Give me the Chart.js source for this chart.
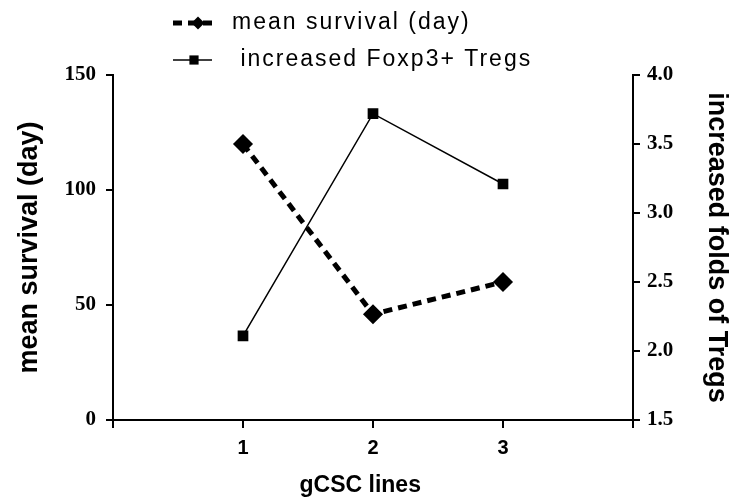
<!DOCTYPE html>
<html>
<head>
<meta charset="utf-8">
<script src="https://cdn.jsdelivr.net/npm/chart.js@4"></script>
<style>
  html, body { margin: 0; padding: 0; background: #fff; }
  #wrap { width: 737px; height: 501px; }
</style>
</head>
<body>
<div id="wrap"><canvas id="survival"></canvas></div>
<script>
var lines = [1, 2, 3];
var survivalDays = [120, 46, 60];
var tregFolds = [2.11, 3.72, 3.21];
var survivalTicks = [0, 50, 100, 150];
var tregTicks = [1.5, 2.0, 2.5, 3.0, 3.5, 4.0];

// simple two-row legend, like the original figure
var stackedLegend = {
  id: 'stackedLegend',
  afterDraw: function (chart) {
    var ctx = chart.ctx;
    var rows = [23, 60];
    ctx.save();
    chart.data.datasets.forEach(function (ds, i) {
      var y = rows[i];
      ctx.strokeStyle = '#000';
      ctx.fillStyle = '#000';
      ctx.lineWidth = ds.borderWidth;
      ctx.setLineDash(ds.borderDash || []);
      ctx.beginPath();
      ctx.moveTo(173, y);
      ctx.lineTo(212, y);
      ctx.stroke();
      ctx.setLineDash([]);
      Chart.helpers.drawPoint(ctx, { pointStyle: ds.pointStyle, radius: 6.5, rotation: 0 }, i === 0 ? 198 : 194, y);
      ctx.font = '23px Arial, "Liberation Sans", sans-serif';
      ctx.letterSpacing = '2px';
      ctx.textBaseline = 'middle';
      ctx.fillText(ds.label, 232, y);
      ctx.letterSpacing = '0px';
    });
    ctx.restore();
  }
};

var survivalchart = document.getElementById("survival");

var myChart = new Chart(survivalchart, {
type: 'line',
data: {
    datasets: [{
        label: 'mean survival (day)',
        data: lines.map(function (x, i) { return { x: x, y: survivalDays[i] }; }),
        yAxisID: 'y',
        borderColor: '#000',
        backgroundColor: '#000',
        borderWidth: 5,
        borderDash: [9, 6],
        pointStyle: 'rectRot',
        pointRadius: 6.5,
        tension: 0
    }, {
        label: ' increased Foxp3+ Tregs',
        data: lines.map(function (x, i) { return { x: x, y: tregFolds[i] }; }),
        yAxisID: 'y1',
        borderColor: '#000',
        backgroundColor: '#000',
        borderWidth: 1.5,
        pointStyle: 'rect',
        pointRadius: 6.5,
        tension: 0
    }]
},
options: {
    responsive: true,
    maintainAspectRatio: false,
    animation: false,
    layout: { padding: { top: 75, left: 0, right: 0, bottom: 0 } },
    plugins: {
        legend: { display: false },
        tooltip: { enabled: false },
    },
    scales: {
        x: {
            type: 'linear',
            min: 0,
            max: 4,
            afterFit: function (s) { s.height = 81; },
            afterBuildTicks: function (s) { s.ticks = [0, 1, 2, 3, 4].map(function (v) { return { value: v }; }); },
            border: { color: '#000', width: 2 },
            grid: { drawOnChartArea: false, color: '#000', lineWidth: 2, tickLength: 8 },
            ticks: {
                color: '#000',
                padding: 8,
                font: { family: 'Arial, "Liberation Sans", sans-serif', size: 20, weight: 'bold' },
                callback: function (v) { return lines.indexOf(v) >= 0 ? String(v) : ''; }
            },
            title: {
                display: true,
                // trailing spaces pull the title a bit left, as in the original
                text: 'gCSC lines    ',
                color: '#000',
                padding: { top: 0, bottom: 2 },
                font: { family: 'Arial, "Liberation Sans", sans-serif', size: 23, weight: 'bold' }
            }
        },
        y: {
            position: 'left',
            min: 0,
            max: 150,
            afterFit: function (s) { s.width = 113; },
            afterBuildTicks: function (s) { s.ticks = survivalTicks.map(function (v) { return { value: v }; }); },
            border: { color: '#000', width: 2 },
            grid: { drawOnChartArea: false, color: '#000', lineWidth: 2, tickLength: 7 },
            ticks: {
                color: '#000',
                padding: 10,
                font: { family: '"Liberation Serif", "Times New Roman", serif', size: 21, weight: 'bold' }
            },
            title: {
                display: true,
                text: 'mean survival (day)',
                color: '#000',
                padding: { top: 13, bottom: 0 },
                font: { family: 'Arial, "Liberation Sans", sans-serif', size: 27, weight: 'bold' }
            }
        },
        y1: {
            position: 'right',
            min: 1.5,
            max: 4.0,
            afterFit: function (s) { s.width = 104; },
            afterBuildTicks: function (s) { s.ticks = tregTicks.map(function (v) { return { value: v }; }); },
            border: { color: '#000', width: 2 },
            grid: { drawOnChartArea: false, color: '#000', lineWidth: 2, tickLength: 7 },
            ticks: {
                color: '#000',
                padding: 7,
                font: { family: '"Liberation Serif", "Times New Roman", serif', size: 21, weight: 'bold' },
                callback: function (v) { return Number(v).toFixed(1); }
            },
            title: {
                display: true,
                text: 'increased folds of Tregs',
                color: '#000',
                padding: { top: 4, bottom: 0 },
                font: { family: 'Arial, "Liberation Sans", sans-serif', size: 27, weight: 'bold' }
            }
        }
    }
},
plugins: [stackedLegend]
});
</script>
</body>
</html>
